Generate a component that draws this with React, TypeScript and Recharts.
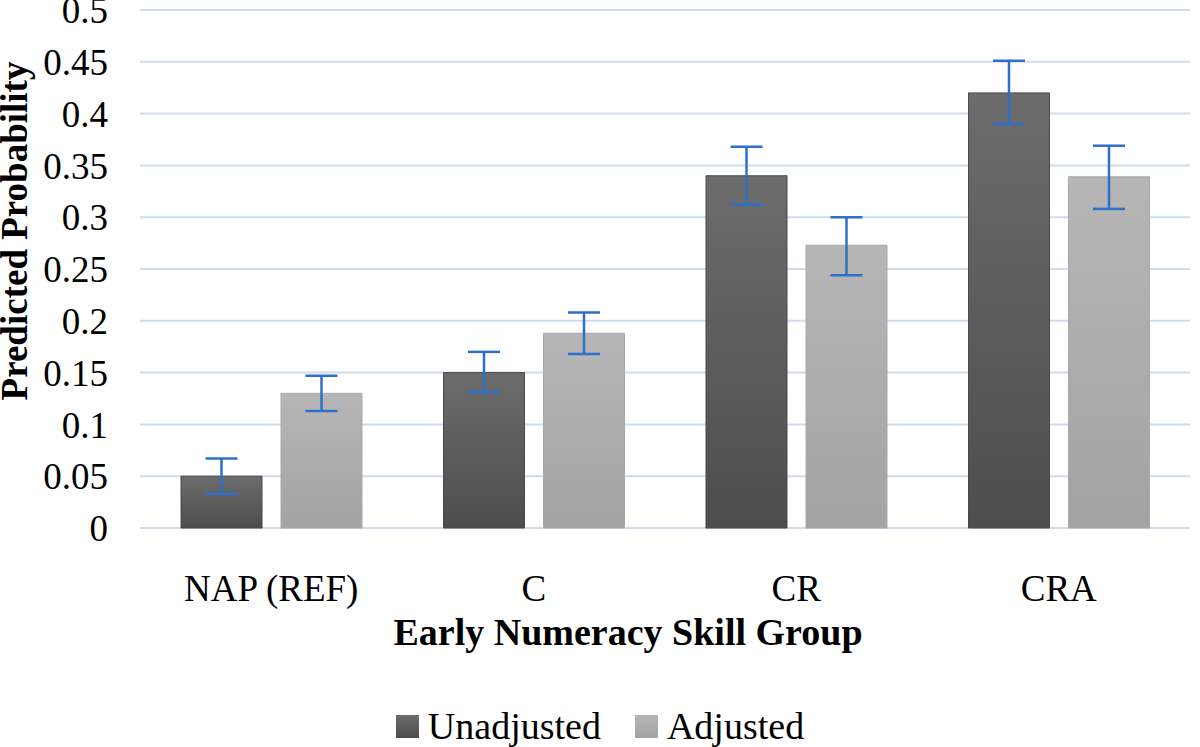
import React from "react";
import {
  BarChart,
  Bar,
  XAxis,
  YAxis,
  CartesianGrid,
  Legend,
  ErrorBar,
} from "recharts";

// values
const groups = ["NAP (REF)", "C", "CR", "CRA"];
const unadjusted = [0.05, 0.15, 0.34, 0.42];
const unadjustedLow = [0.033, 0.131, 0.312, 0.39];
const unadjustedHigh = [0.067, 0.17, 0.368, 0.451];
const adjusted = [0.13, 0.188, 0.273, 0.339];
const adjustedLow = [0.113, 0.168, 0.244, 0.308];
const adjustedHigh = [0.147, 0.208, 0.3, 0.369];
const yTicks = [0, 0.05, 0.1, 0.15, 0.2, 0.25, 0.3, 0.35, 0.4, 0.45, 0.5];
const seriesNames = ["Unadjusted", "Adjusted"];

const data = groups.map((g, i) => ({
  group: g,
  unadjusted: unadjusted[i],
  unadjustedErr: [unadjusted[i] - unadjustedLow[i], unadjustedHigh[i] - unadjusted[i]],
  adjusted: adjusted[i],
  adjustedErr: [adjusted[i] - adjustedLow[i], adjustedHigh[i] - adjusted[i]],
}));

const font = "'Liberation Serif', 'Times New Roman', serif";
const errColor = "#2f6fcc";
const legendFills = ["url(#gradUnadj)", "url(#gradAdj)"];

// legend kept in series order (recharts sorts it by name otherwise)
const renderLegend = () => (
  <div
    style={{
      display: "flex",
      justifyContent: "center",
      alignItems: "center",
      gap: 34,
      fontFamily: font,
      fontSize: 38,
      color: "#000",
    }}
  >
    {seriesNames.map((name, i) => (
      <div key={name} style={{ display: "flex", alignItems: "center", gap: 9 }}>
        <svg width={23} height={23}>
          <rect x={0} y={0} width={23} height={23} fill={legendFills[i]} />
        </svg>
        <span>{name}</span>
      </div>
    ))}
  </div>
);

export default function App() {
  return (
    <div style={{ position: "absolute", left: 0, top: 0, fontFamily: font }}>
      <BarChart
        width={1200}
        height={747}
        data={data}
        margin={{ top: 10, right: 10, bottom: 119, left: 0 }}
        barSize={81}
        barGap={19}
      >
        <defs>
          <linearGradient id="gradUnadj" x1="0" y1="0" x2="0" y2="1">
            <stop offset="0%" stopColor="#6c6c6c" />
            <stop offset="100%" stopColor="#4d4d4d" />
          </linearGradient>
          <linearGradient id="gradAdj" x1="0" y1="0" x2="0" y2="1">
            <stop offset="0%" stopColor="#b6b6b6" />
            <stop offset="100%" stopColor="#a3a3a3" />
          </linearGradient>
        </defs>
        <CartesianGrid vertical={false} stroke="#cfdbef" strokeWidth={2} />
        <XAxis
          dataKey="group"
          height={100}
          tickLine={false}
          axisLine={false}
          tickSize={0}
          tickMargin={47}
          tick={{ fill: "#000", fontSize: 37, fontFamily: font }}
          label={() => (
            <text
              x={628}
              y={645}
              textAnchor="middle"
              fontFamily={font}
              fontWeight="bold"
              fontSize={38}
              fill="#000"
            >
              Early Numeracy Skill Group
            </text>
          )}
        />
        <YAxis
          width={140}
          domain={[0, 0.5]}
          ticks={yTicks}
          tickLine={false}
          axisLine={false}
          tickSize={0}
          tickMargin={32}
          interval={0}
          tick={{ fill: "#000", fontSize: 37, fontFamily: font }}
          label={() => (
            <text
              x={27}
              y={231}
              transform="rotate(-90 27 231)"
              textAnchor="middle"
              fontFamily={font}
              fontWeight="bold"
              fontSize={37}
              fill="#000"
            >
              Predicted Probability
            </text>
          )}
        />
        <Legend
          verticalAlign="middle"
          align="center"
          layout="horizontal"
          content={renderLegend}
          wrapperStyle={{ top: 704, left: 0, width: 1200 }}
        />
        <Bar
          dataKey="unadjusted"
          name="Unadjusted"
          fill="url(#gradUnadj)"
          stroke="#4a4a4a"
          strokeWidth={1}
          isAnimationActive={false}
        >
          <ErrorBar dataKey="unadjustedErr" width={16} stroke={errColor} strokeWidth={2.5} />
        </Bar>
        <Bar
          dataKey="adjusted"
          name="Adjusted"
          fill="url(#gradAdj)"
          stroke="#a8a8a8"
          strokeWidth={1}
          isAnimationActive={false}
        >
          <ErrorBar dataKey="adjustedErr" width={16} stroke={errColor} strokeWidth={2.5} />
        </Bar>
      </BarChart>
    </div>
  );
}
